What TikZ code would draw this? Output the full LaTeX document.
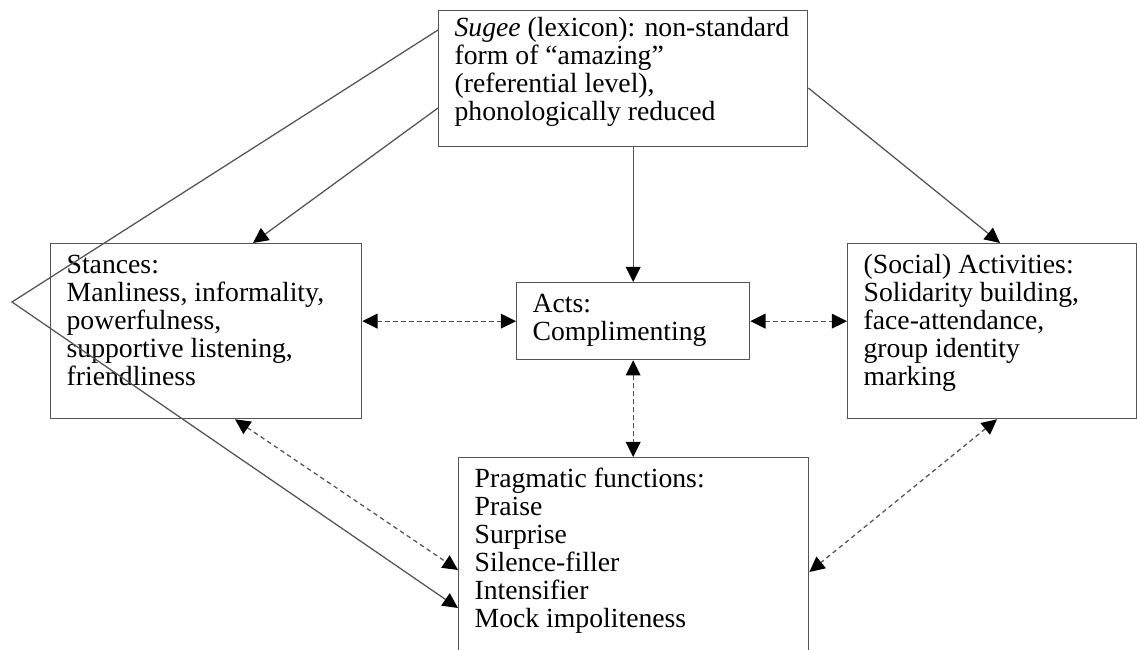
\documentclass[tikz,border=0pt]{standalone}
\usepackage{fontspec}
\setmainfont{Liberation Serif}
\usepackage{tikz}
\usetikzlibrary{arrows.meta,positioning,calc}
\definecolor{linegray}{gray}{0.33}
\tikzstyle{box}=[draw=linegray, line width=0.9pt, anchor=north west, inner xsep=0.4cm, inner ysep=0pt, font=\fontsize{19.7}{19.84}\selectfont]
\tikzstyle{link}=[color=linegray, line width=0.9pt]
\tikzstyle{dlink}=[link, dash pattern=on 3.2pt off 2.5pt]
\newcommand{\boxtxt}[3]{\parbox[t][#2][t]{#1}{\rule{0pt}{0.75cm}#3}}

\begin{document}
\begin{tikzpicture}[x=0.025cm, y=-0.025cm, >={Triangle[length=3.8mm,width=3.7mm,color=black,fill=black]}]
  \clip (0,0) rectangle (1137,650);
%
  \node[box] (sugee) at (438,10) {\parbox[t][3.4cm][t]{8.425cm}{\rule{0pt}{0.65cm}\textit{Sugee} (lexicon): non-standard\\form of “amazing”\\(referential level),\\phonologically reduced}};
  \node[box] (stances) at (50,243) {\boxtxt{6.975cm}{4.375cm}{Stances:\\Manliness, informality,\\powerfulness,\\supportive listening,\\friendliness}};
  \node[box] (acts) at (516,282) {\boxtxt{5.025cm}{1.925cm}{Acts:\\Complimenting}};
  \node[box] (social) at (847,243) {\boxtxt{6.425cm}{4.375cm}{(Social) Activities:\\Solidarity building,\\face-attendance,\\group identity\\marking}};
  \node[box] (prag) at (458,457) {\boxtxt{7.95cm}{5.25cm}{Pragmatic functions:\\Praise\\Surprise\\Silence-filler\\Intensifier\\Mock impoliteness}};
  \coordinate (bend) at (12,302);
%
  \path[link, ->]
  ($(sugee.north west)+(0,98)$) edge ($(stances.north west)+(203,0)$)
  (acts.north |- sugee.south) edge (acts.north)
  ($(sugee.north east)+(0,78)$) edge ($(social.north west)+(153,0)$);
  \draw[link, ->] ($(sugee.north west)+(0,20)$) -- (bend) -- ($(prag.north west)+(0,151)$);
%
  \path[dlink, <->]
  (acts.west -| stances.east) edge (acts.west)
  (acts.east) edge (acts.east -| social.west)
  (acts.south) edge (acts.south |- prag.north)
  ($(stances.south west)+(185,0)$) edge ($(prag.north west)+(0,113)$)
  ($(social.south west)+(150,0)$) edge ($(prag.north east)+(0,115)$);
\end{tikzpicture}
\end{document}
